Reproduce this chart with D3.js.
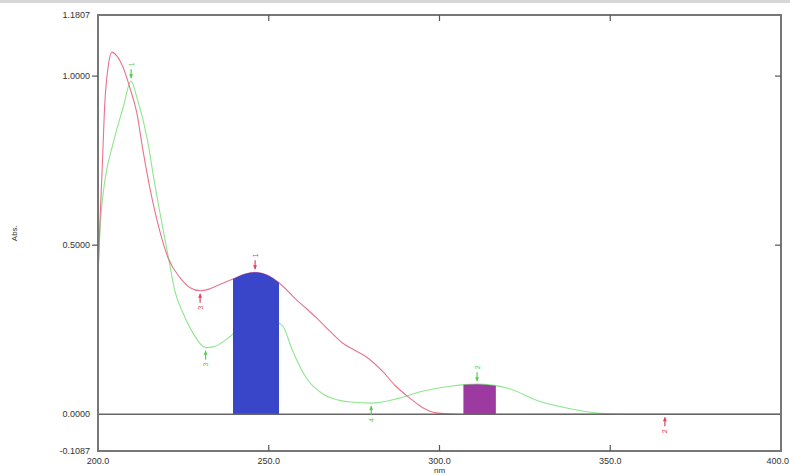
<!DOCTYPE html>
<html lang="en">
<head>
  <meta charset="UTF-8">
  <title>Absorbance Spectrum</title>
  <script src="https://d3js.org/d3.v7.min.js"></script>
  <style>
    body {
      margin: 0;
      background-color: #fff;
      font-family: "Liberation Sans", Arial, sans-serif;
    }
    #chart {
      display: block;
    }
  </style>
</head>
<body>
  <svg id="chart" width="790" height="475"></svg>

  <script>
    // red spectrum
    const redNm = [200, 200.5, 201.2, 202, 203, 204.1, 205.5, 207.3, 209.5, 211.4, 213, 214.6, 217.3, 220.5, 224, 227, 229.9, 232.5, 234.8, 239.5, 243, 246, 249.5, 253, 258, 264, 268, 271.7, 275, 278.8, 283.5, 287, 291.4, 295, 299, 305, 320, 350, 380, 400];
    const redAbs = [0.40, 0.55, 0.72, 0.92, 1.03, 1.071, 1.06, 1.027, 0.96, 0.89, 0.79, 0.70, 0.573, 0.463, 0.404, 0.374, 0.365, 0.37, 0.38, 0.40, 0.415, 0.42, 0.412, 0.389, 0.34, 0.285, 0.245, 0.21, 0.19, 0.168, 0.125, 0.085, 0.047, 0.02, 0.004, 0, 0, 0, 0, 0];

    // green spectrum
    const greenNm = [200, 200.8, 202, 204.4, 207.3, 209.7, 211.3, 214.5, 216.3, 220.5, 222.5, 225, 228, 231.5, 234, 238.7, 242, 246, 250, 254, 257, 261, 266, 270, 274, 280, 288, 295, 303, 311, 320, 329, 339, 347, 355, 400];
    const greenAbs = [0.42, 0.58, 0.69, 0.80, 0.905, 0.985, 0.94, 0.81, 0.70, 0.47, 0.365, 0.297, 0.237, 0.197, 0.20, 0.23, 0.26, 0.278, 0.28, 0.262, 0.187, 0.107, 0.059, 0.043, 0.036, 0.033, 0.047, 0.068, 0.083, 0.089, 0.077, 0.039, 0.015, 0.003, 0, 0];

    // shaded bands [from, to]
    const blueBand = [239.5, 253];
    const purpleBand = [307, 316.5];

    // peak / valley pick marks
    const redPickNm = [246, 366, 229.9];
    const redPickAbs = [0.42, 0, 0.365];
    const redPickLabel = ["1", "2", "3"];
    const redPickType = ["peak", "valley", "valley"];

    const greenPickNm = [209.7, 311, 231.5, 280];
    const greenPickAbs = [0.985, 0.089, 0.197, 0.033];
    const greenPickLabel = ["1", "2", "3", "4"];
    const greenPickType = ["peak", "peak", "valley", "valley"];

    const yTicks = [1.1807, 1.0, 0.5, 0.0, -0.1087];
    const yMarks = [1.0, 0.5];
    const xTicks = [200, 250, 300, 350, 400];

    const margin = { left: 98, right: 9, top: 15, bottom: 24 };
    const width = 790, height = 475;

    const x = d3.scaleLinear().domain([200, 400]).range([margin.left, width - margin.right]);
    const y = d3.scaleLinear().domain([-0.1087, 1.1807]).range([height - margin.bottom, margin.top]);

    const svg = d3.select("#chart");

    // grey strip at top of the scan
    svg.append("rect").attr("x", 0).attr("y", 0).attr("width", width).attr("height", 3).attr("fill", "#d6d6d6");

    svg.append("clipPath").attr("id", "plot")
      .append("rect")
      .attr("x", x(200)).attr("y", y(1.1807))
      .attr("width", x(400) - x(200)).attr("height", y(-0.1087) - y(1.1807));

    const red = redNm.map((d, i) => ({ nm: d, v: redAbs[i] }));
    const green = greenNm.map((d, i) => ({ nm: d, v: greenAbs[i] }));

    const curve = d3.curveMonotoneX;
    const line = d3.line().x(d => x(d.nm)).y(d => y(d.v)).curve(curve);
    const area = d3.area().x(d => x(d.nm)).y0(y(0)).y1(d => y(d.v)).curve(curve);

    const g = svg.append("g").attr("clip-path", "url(#plot)");

    // bands: area under curve, clipped to band range
    function band(data, range, color, id) {
      g.append("clipPath").attr("id", id)
        .append("rect")
        .attr("x", x(range[0])).attr("y", 0)
        .attr("width", x(range[1]) - x(range[0])).attr("height", height);
      g.append("path")
        .datum(data)
        .attr("d", area)
        .attr("fill", color)
        .attr("clip-path", `url(#${id})`);
    }

    g.append("path").datum(green).attr("d", line)
      .attr("fill", "none").attr("stroke", "#8ee68e").attr("stroke-width", 1.1);
    g.append("path").datum(red).attr("d", line)
      .attr("fill", "none").attr("stroke", "#e8738b").attr("stroke-width", 1.1);

    band(red, blueBand, "#3a46c9", "clipBlue");
    band(green, purpleBand, "#9c3aa2", "clipPurple");

    // zero line
    svg.append("line")
      .attr("x1", x(200)).attr("x2", x(400))
      .attr("y1", y(0)).attr("y2", y(0))
      .attr("stroke", "#666").attr("stroke-width", 1.5);

    // frame
    svg.append("rect")
      .attr("x", x(200)).attr("y", y(1.1807))
      .attr("width", x(400) - x(200)).attr("height", y(-0.1087) - y(1.1807))
      .attr("fill", "none").attr("stroke", "#777").attr("stroke-width", 2);

    // y tick marks (left outward, right inward)
    svg.selectAll(".ytm").data(yMarks).enter().append("line")
      .attr("x1", x(200) - 6).attr("x2", x(200))
      .attr("y1", d => y(d)).attr("y2", d => y(d))
      .attr("stroke", "#555").attr("stroke-width", 1.2);
    svg.selectAll(".ytmr").data(yMarks).enter().append("line")
      .attr("x1", x(400) - 6).attr("x2", x(400))
      .attr("y1", d => y(d)).attr("y2", d => y(d))
      .attr("stroke", "#555").attr("stroke-width", 1.2);

    // x tick marks (bottom and top, inward)
    const xInner = xTicks.slice(1, -1);
    svg.selectAll(".xtm").data(xInner).enter().append("line")
      .attr("x1", d => x(d)).attr("x2", d => x(d))
      .attr("y1", y(-0.1087) - 6).attr("y2", y(-0.1087))
      .attr("stroke", "#555").attr("stroke-width", 1.2);
    svg.selectAll(".xtmt").data(xInner).enter().append("line")
      .attr("x1", d => x(d)).attr("x2", d => x(d))
      .attr("y1", y(1.1807)).attr("y2", y(1.1807) + 6)
      .attr("stroke", "#555").attr("stroke-width", 1.2);

    // tick labels
    svg.selectAll(".ylab").data(yTicks).enter().append("text")
      .attr("x", x(200) - 8)
      .attr("y", d => y(d) + 3)
      .attr("text-anchor", "end")
      .attr("font-size", 9)
      .attr("fill", "#333")
      .text(d => d.toFixed(4));

    // last label pulled in so it stays on the page
    svg.selectAll(".xlab").data(xTicks).enter().append("text")
      .attr("x", d => d === 400 ? width - 1 : x(d))
      .attr("y", y(-0.1087) + 13)
      .attr("text-anchor", d => d === 400 ? "end" : "middle")
      .attr("font-size", 9)
      .attr("fill", "#333")
      .text(d => d.toFixed(1));

    svg.append("text")
      .attr("x", x(300)).attr("y", y(-0.1087) + 22)
      .attr("text-anchor", "middle")
      .attr("font-size", 8).attr("fill", "#333")
      .text("nm");

    svg.append("text")
      .attr("transform", `translate(17, ${y(0.5) - 12}) rotate(-90)`)
      .attr("text-anchor", "middle")
      .attr("font-size", 8).attr("fill", "#333")
      .text("Abs.");

    // pick marks
    function picks(nms, vals, labels, types, color) {
      nms.forEach((nm, i) => {
        const px = x(nm), py = y(vals[i]);
        const dir = types[i] === "peak" ? -1 : 1;
        const a = py + dir * 3, b = py + dir * 12;
        svg.append("line")
          .attr("x1", px).attr("x2", px).attr("y1", a).attr("y2", b)
          .attr("stroke", color).attr("stroke-width", 1.2);
        svg.append("path")
          .attr("d", `M${px},${a} l-2,${dir * 4} l4,0 z`)
          .attr("fill", color);
        svg.append("text")
          .attr("transform", `translate(${px + 2.5}, ${py + dir * 15}) rotate(-90)`)
          .attr("text-anchor", dir < 0 ? "start" : "end")
          .attr("font-size", 7)
          .attr("fill", color)
          .text(labels[i]);
      });
    }
    picks(redPickNm, redPickAbs, redPickLabel, redPickType, "#e0405e");
    picks(greenPickNm, greenPickAbs, greenPickLabel, greenPickType, "#4fcf4f");
  </script>
</body>
</html>
